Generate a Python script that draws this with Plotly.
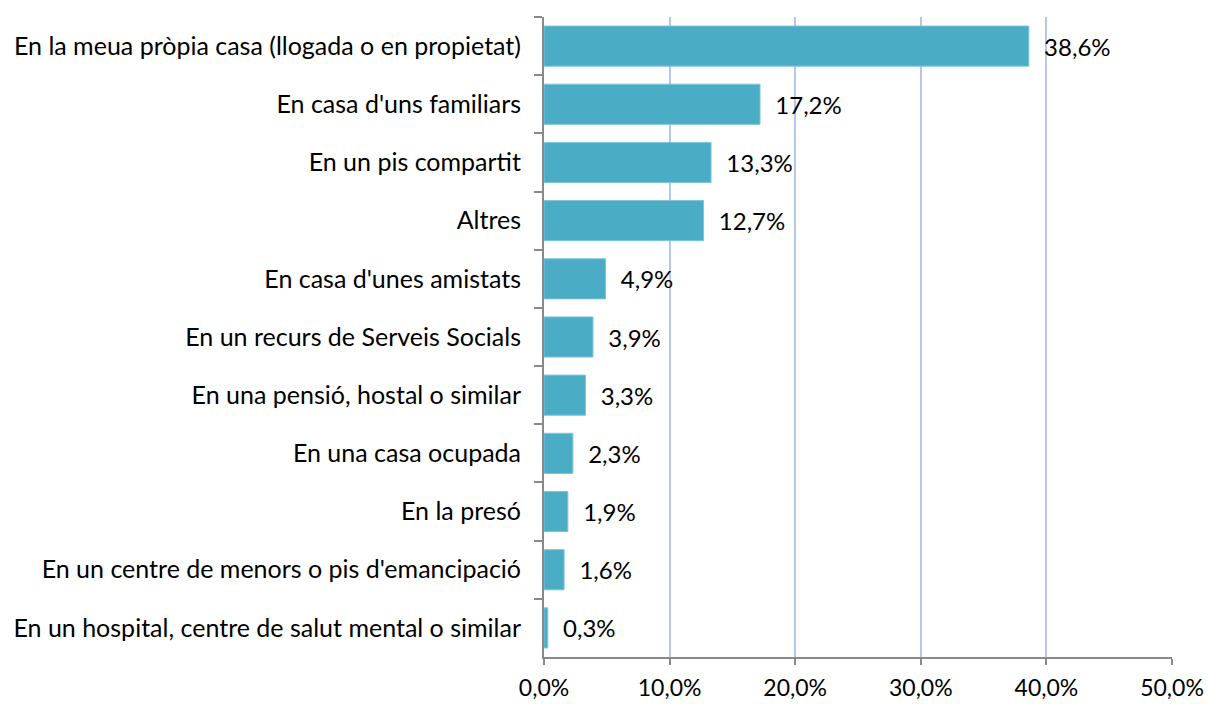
import plotly.graph_objects as go

categories = [
    "En la meua pròpia casa (llogada o en propietat)",
    "En casa d'uns familiars",
    "En un pis compartit",
    "Altres",
    "En casa d'unes amistats",
    "En un recurs de Serveis Socials",
    "En una pensió, hostal o similar",
    "En una casa ocupada",
    "En la presó",
    "En un centre de menors o pis d'emancipació",
    "En un hospital, centre de salut mental o similar",
]
values = [38.6, 17.2, 13.3, 12.7, 4.9, 3.9, 3.3, 2.3, 1.9, 1.6, 0.3]
labels = ["  " + f"{v:.1f}%".replace(".", ",") for v in values]
tick_vals = [0, 10, 20, 30, 40, 50]
tick_text = ["0,0%", "10,0%", "20,0%", "30,0%", "40,0%", "50,0%"]

FS = 24

fig = go.Figure(go.Bar(
    x=values, y=categories, orientation="h",
    marker=dict(color="#4bacc6", line=dict(color="#7fc6d9", width=1)),
    text=labels, textposition="outside", cliponaxis=False,
    textfont=dict(size=FS, color="#000000", family="Lato"),
))

fig.update_layout(
    width=1208, height=704,
    margin=dict(l=544, r=36, t=17, b=47, autoexpand=False),
    paper_bgcolor="white", plot_bgcolor="white",
    font=dict(family="Lato", size=FS, color="#000000"),
    bargap=0.31,
    showlegend=False,
)
fig.update_xaxes(
    range=[0, 50], tickvals=tick_vals, ticktext=tick_text,
    showgrid=True, gridcolor="#b4c7ea", gridwidth=1.5,
    showline=True, linecolor="#898989", linewidth=1.5,
    ticks="outside", ticklen=6, tickcolor="#898989", tickwidth=1.5,
    zeroline=False, tickfont=dict(size=23), automargin=False,
    ticklabelstandoff=4,
)
fig.update_yaxes(
    autorange="reversed", type="category",
    showline=True, linecolor="#898989", linewidth=2,
    ticks="outside", tickson="boundaries", ticklen=8, tickcolor="#898989", tickwidth=1.5,
    showgrid=False, tickfont=dict(size=25), ticklabelstandoff=16, automargin=False,
)

fig.write_html(
    "out.html",
    config={"displayModeBar": False},
    post_script="document.body.style.margin='0';document.body.style.overflow='hidden';",
)
